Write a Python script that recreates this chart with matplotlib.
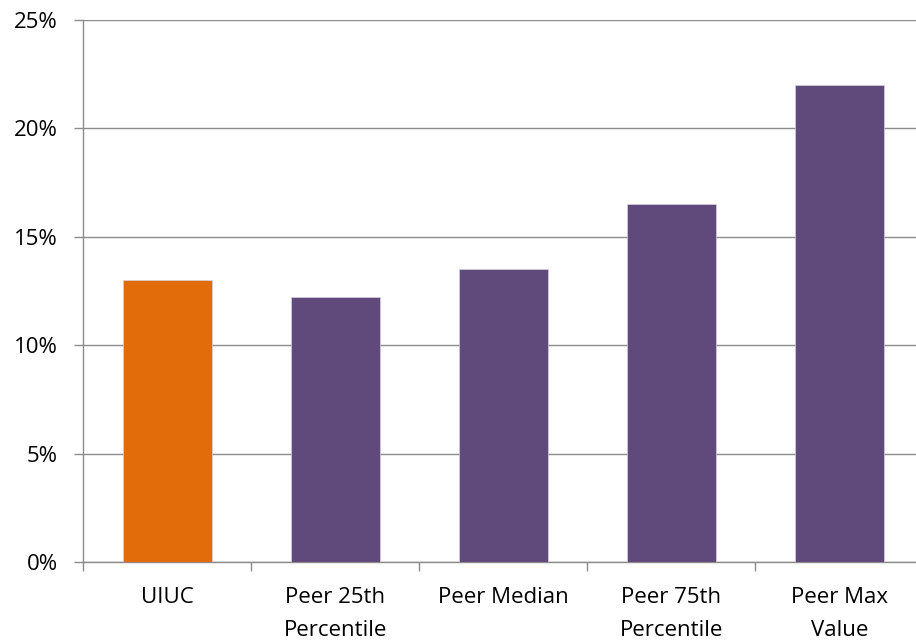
import matplotlib
matplotlib.use("Agg")
import matplotlib.pyplot as plt
from matplotlib.ticker import FuncFormatter

categories = ["UIUC", "Peer 25th\nPercentile", "Peer Median", "Peer 75th\nPercentile", "Peer Max\nValue"]
values = [13.0, 12.25, 13.5, 16.5, 22.0]
colors = ["#E36C0A", "#604A7B", "#604A7B", "#604A7B", "#604A7B"]
yticks = [0, 5, 10, 15, 20, 25]

plt.rcParams['font.family'] = ['Open Sans', 'DejaVu Sans']

fig = plt.figure(figsize=(9.16, 6.43), dpi=100)
ax = fig.add_axes([83.3 / 916, 80.7 / 643, 840 / 916, 542.3 / 643])

x = list(range(len(categories)))
ax.bar(x, values, width=0.53, color=colors, edgecolor="#d8d0e0", linewidth=0.5, zorder=3)

ax.set_xlim(-0.5, len(categories) - 0.5)
ax.set_ylim(0, 25)
ax.set_yticks(yticks)
ax.yaxis.set_major_formatter(FuncFormatter(lambda v, p: f"{v:.0f}%"))
ax.grid(axis="y", color="#8c8c8c", linewidth=1.0, zorder=0)
ax.set_axisbelow(True)

ax.set_xticks([i + 0.5 for i in range(-1, len(categories))], minor=False)
ax.set_xticklabels([])
ax.set_xticks(x, minor=True)
ax.set_xticklabels(categories, minor=True, fontsize=16, linespacing=1.75, va="top")
ax.tick_params(axis="x", which="minor", length=0, pad=18)
ax.tick_params(axis="x", which="major", length=6.5, color="#8c8c8c", width=1.0)
ax.tick_params(axis="y", length=6.5, color="#8c8c8c", width=1.0, labelsize=16, pad=12)

for s in ["top", "right"]:
    ax.spines[s].set_visible(False)
for s in ["left", "bottom"]:
    ax.spines[s].set_color("#8c8c8c")
    ax.spines[s].set_linewidth(1.0)

fig.savefig("out.png", dpi=100)
